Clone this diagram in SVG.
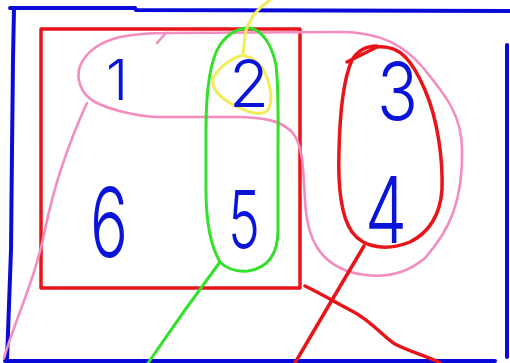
<svg xmlns="http://www.w3.org/2000/svg" width="510" height="363" viewBox="0 0 510 363">
<style>
.s{fill:none;stroke-linecap:round;stroke-linejoin:round}
.blue{stroke:#0a0ad8;stroke-width:4}
.red{stroke:#e8141a;stroke-width:3.5}
.pink{stroke:#f38cbf;stroke-width:2.6}
.green{stroke:#33e02a;stroke-width:3}
.yellow{stroke:#f2ec5c;stroke-width:3}
.d{fill:#0a14d8;font-family:Inter,"Liberation Sans",Arial,sans-serif;font-weight:300}
</style>
<rect width="510" height="363" fill="#fff"/>
<g id="frame">
<path class="s blue" d="M10,8 L135,8 L136,10 L510,11"/>
<path class="s blue" d="M14,8 L13,60 L12,150 L11,250 L7,360"/>
<path class="s blue" d="M5,361 L495,361"/>
<path class="s blue" d="M507,45 L507,357"/>
</g>
<g id="box">
<path class="s red" d="M41,29 L300,29 L300,288 L41,288 Z"/>
</g>
<g id="connectors">
<path class="s pink" d="M166,33 L340,32 C380,32 405,45 425,70 C445,95 462,115 462,150 C463,200 450,230 425,258 C405,275 380,280 350,272 C320,262 307,240 305,200 C303,165 303,145 292,132 C280,120 265,118 240,117 L160,117 C140,117 110,110 95,102 C80,94 76,78 80,66 C86,52 100,42 120,37 C135,34 150,33 166,33"/>
<path class="s pink" d="M157,43 L166,33"/>
<path class="s pink" d="M87,103 C70,140 55,180 45,230 C35,280 15,320 4,358"/>
<path class="s red" d="M347,62 L377,47 C400,45 412,60 425,90 C438,120 443,160 442,190 C440,215 430,232 410,242 C390,250 365,250 352,232 C340,215 338,180 339,150 C340,110 343,80 352,60 C358,50 368,46 377,46"/>
<path class="s red" d="M364,246 L332,300 L295,363"/>
<path class="s red" d="M305,286 C320,293 340,305 352,311 C370,320 385,338 395,344 C410,352 430,357 440,363"/>
<path class="s green" d="M220,262 C210,245 206,220 206,190 L206,130 C206,90 210,60 220,45 C228,33 240,27 250,28 C262,30 272,45 276,65 C279,90 278,120 278,160 L278,230 C278,255 268,268 248,271 C235,272 226,268 220,262 Z"/>
<path class="s green" d="M220,262 L185,310 L148,363"/>
<path class="s yellow" d="M270,0 C258,8 248,20 245,35 L243,55 C232,58 220,66 213,78 C211,90 222,100 240,108 C250,113 262,116 268,110 C274,100 270,80 262,68 C256,60 250,57 243,55"/>
</g>
<g id="n1"><text class="d" x="117" y="100" font-size="56" text-anchor="middle">1</text></g>
<g id="n2"><text class="d" x="229" y="107" font-size="66" textLength="40" lengthAdjust="spacingAndGlyphs">2</text></g>
<g id="n3"><text class="d" x="377" y="120" font-size="80" textLength="41" lengthAdjust="spacingAndGlyphs">3</text></g>
<g id="n4"><text class="d" x="365" y="243" font-size="92" textLength="42" lengthAdjust="spacingAndGlyphs">4</text></g>
<g id="n5"><text class="d" x="228" y="248" font-size="80" textLength="32" lengthAdjust="spacingAndGlyphs">5</text></g>
<g id="n6"><text class="d" x="90" y="257" font-size="96" textLength="38" lengthAdjust="spacingAndGlyphs">6</text></g>
</svg>
